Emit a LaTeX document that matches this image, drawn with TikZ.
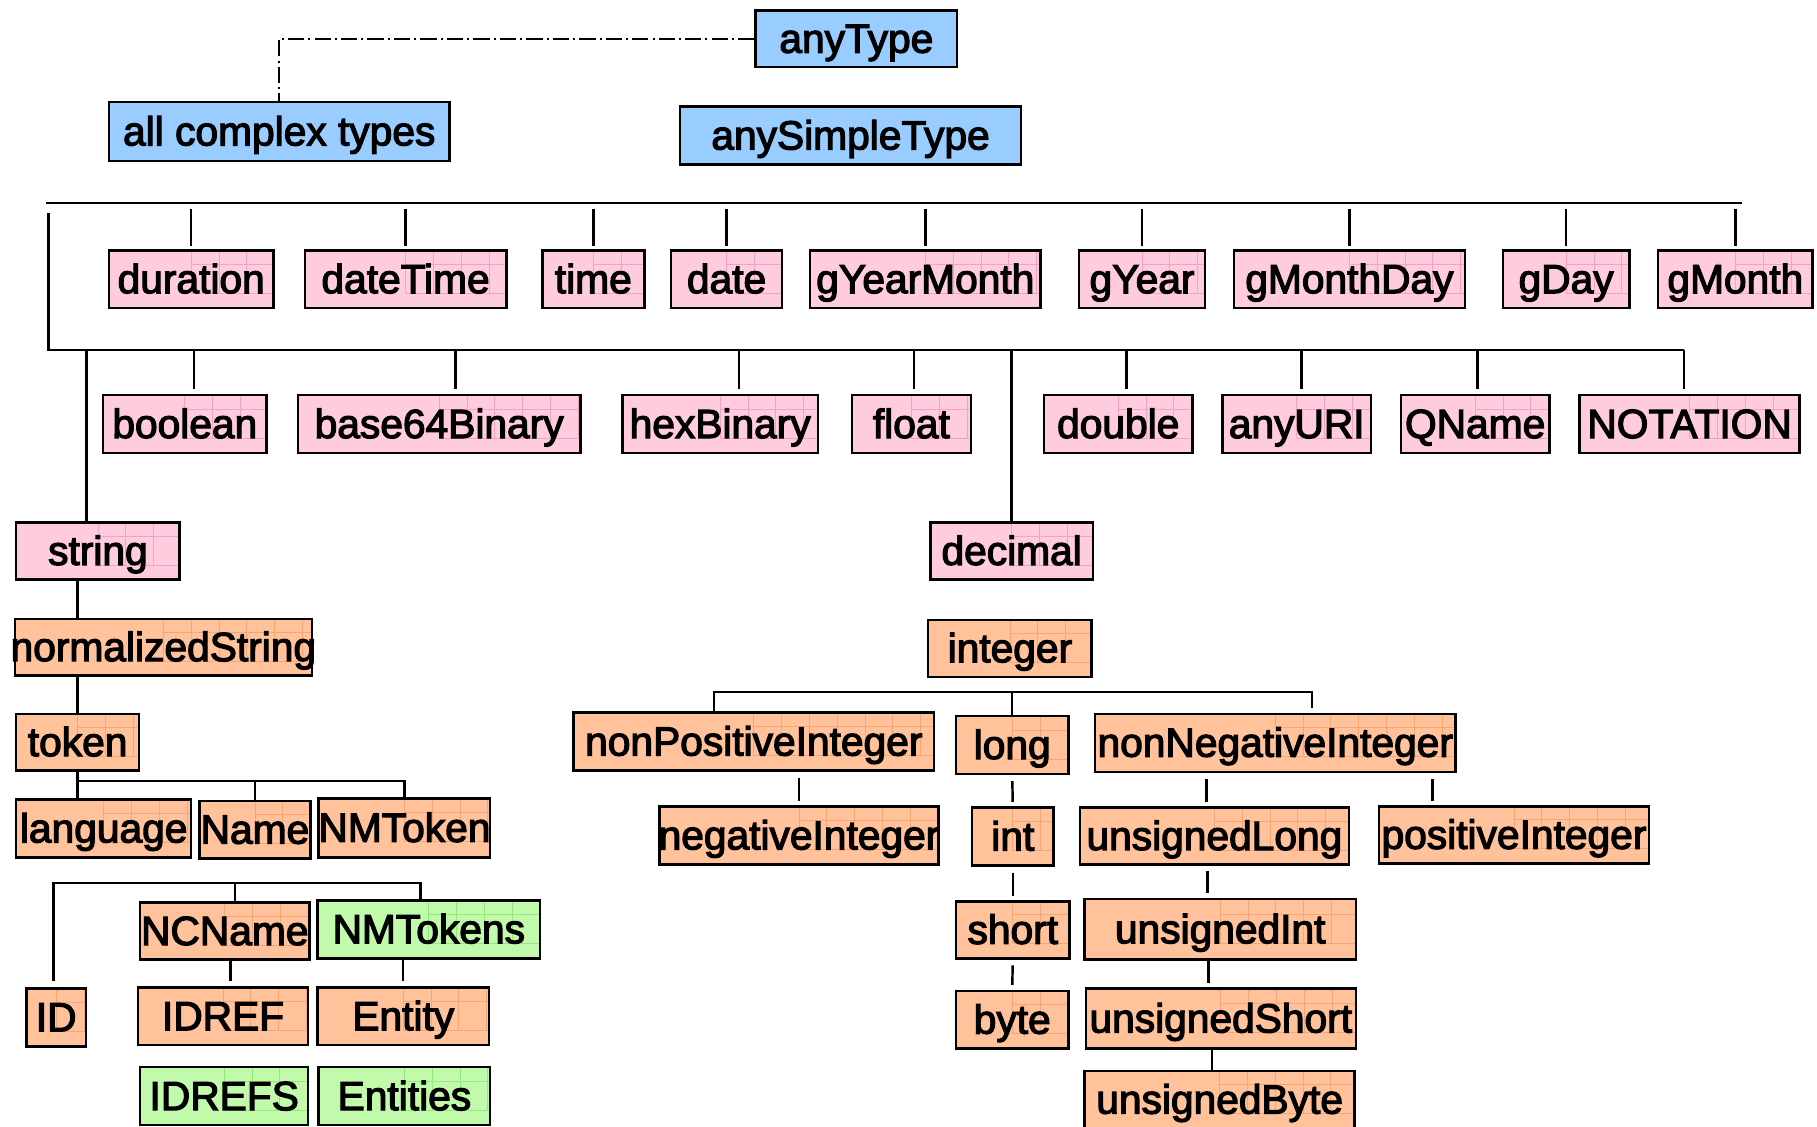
\documentclass[tikz,border=0pt]{standalone}
\usepackage{fontspec}
\newfontfamily\xsdfont{Liberation Sans}[FakeBold=3]

\definecolor{xsdblue}{HTML}{99CCFF}
\definecolor{xsdpink}{HTML}{FFCBDF}
\definecolor{xsdpinkline}{HTML}{F2A2C4}
\definecolor{xsdorange}{HTML}{FFC29B}
\definecolor{xsdorangeline}{HTML}{F6A672}
\definecolor{xsdgreen}{HTML}{C2FAAC}
\definecolor{xsdgreenline}{HTML}{94E87C}

\begin{document}
\begin{tikzpicture}[x=0.02cm, y=-0.02cm,
  texture/.style={path picture={\draw[#1, line width=0.4pt, shift={(path picture bounding box.south west)}]
      (0,0) grid[xstep=0.48cm, ystep=0.5cm] (path picture bounding box.north east);}},
  type/.style={draw, line width=1.2pt, inner sep=0pt, font=\xsdfont\fontsize{20}{24}\selectfont,
    text height=0.64cm, text depth=0.16cm,
    execute at begin node={\hbox to 0pt\bgroup\hss}, execute at end node={\hss\egroup}},
  sz/.style 2 args={minimum width=#1*0.02cm, minimum height=#2*0.02cm},
  root/.style={type, fill=xsdblue},
  prim/.style={type, fill=xsdpink, texture=xsdpinkline},
  derived/.style={type, fill=xsdorange, texture=xsdorangeline},
  listtype/.style={type, fill=xsdgreen, texture=xsdgreenline},
  link/.style={line width=1.2pt},
  gap/.style={link, shorten <=0.1cm, shorten >=0.08cm}]
  \def\px{0.02cm}
  \useasboundingbox (0,0) rectangle (1568,972);

  % Ur types
  \node[root, sz={174}{49}] (anyType) at (739,33.5) {anyType};
  \node[root, sz={294}{51}] (complex) at (241,113.5) {all complex types};
  \node[root, sz={294}{50}] (anySimple) at (734,117) {anySimpleType};

  \draw[link, dash pattern=on 8pt off 2pt on 1pt off 2pt] (anyType.west) -| (complex.north);

  % Primitive types, first row
  \node[prim, sz={142}{50}] (duration) at (165,241) {duration};
  \node[prim, sz={174}{50}] (dateTime) at (350,241) {dateTime};
  \node[prim, sz={88}{50}] (time) at (512,241) {time};
  \node[prim, sz={96}{50}] (date) at (627,241) {date};
  \node[prim, sz={199}{50}] (gYearMonth) at (798.5,241) {gYearMonth};
  \node[prim, sz={109}{50}] (gYear) at (985.5,241) {gYear};
  \node[prim, sz={199}{50}] (gMonthDay) at (1164.5,241) {gMonthDay};
  \node[prim, sz={109}{50}] (gDay) at (1351.5,241) {gDay};
  \node[prim, sz={133}{50}] (gMonth) at (1497.5,241) {gMonth};

  % Primitive types, second row
  \node[prim, sz={141}{50}] (boolean) at (159.5,366) {boolean};
  \node[prim, sz={244}{50}] (base64Binary) at (379,366) {base64Binary};
  \node[prim, sz={169}{50}] (hexBinary) at (621.5,366) {hexBinary};
  \node[prim, sz={103}{50}] (float) at (786.5,366) {float};
  \node[prim, sz={128}{50}] (double) at (965,366) {double};
  \node[prim, sz={128}{50}] (anyURI) at (1119,366) {anyURI};
  \node[prim, sz={128}{50}] (QName) at (1273,366) {QName};
  \node[prim, sz={190}{50}] (NOTATION) at (1458,366) {NOTATION};

  \node[prim, sz={141}{49}] (string) at (84.5,475.5) {string};
  \node[prim, sz={140}{49}] (decimal) at (873,475.5) {decimal};

  % Buses under anySimpleType
  \coordinate (bus1w) at (40,175);
  \coordinate (bus1e) at (1503,175);
  \coordinate (left) at (42,184);
  \coordinate (bus2w) at (42,302);
  \coordinate (bus2e) at (1453,302);
  \draw[link] (bus1w) -- (bus1e);
  \draw[link] (left) -- (bus2w) -- (bus2e);

  \foreach \t in {duration, dateTime, time, date, gYearMonth, gYear, gMonthDay, gDay, gMonth}
    \draw[link, shorten <=0.1cm, shorten >=0.05cm] (\t.north |- bus1w) -- (\t.north);
  \foreach \t/\dx in {boolean/8, base64Binary/14, hexBinary/16, float/2, double/7, anyURI/4, QName/2, NOTATION/-5}
    \draw[link, shorten >=0.08cm] ([xshift=\dx*\px]\t.north |- bus2w) -- ([xshift=\dx*\px]\t.north);
  \draw[link] ([xshift=-10*\px]string.north |- bus2w) -- ([xshift=-10*\px]string.north);
  \draw[link] (decimal.north |- bus2w) -- (decimal.north);

  % Derived from string
  \node[derived, sz={256}{49}] (normStr) at (141,558.5) {normalizedString};
  \node[derived, sz={106}{49}] (token) at (67,640.5) {token};
  \node[derived, sz={151}{50}] (language) at (89.5,715) {language};
  \node[derived, sz={96}{50}] (Name) at (220,716) {Name};
  \node[derived, sz={148}{51}] (NMToken) at (349,714.5) {NMToken};
  \node[derived, sz={146}{49}] (NCName) at (194,803.5) {NCName};
  \node[listtype, sz={192}{50}] (NMTokens) at (370,802) {NMTokens};
  \node[derived, sz={51}{50}] (ID) at (48.5,878) {ID};
  \node[derived, sz={147}{50}] (IDREF) at (192.5,877) {IDREF};
  \node[derived, sz={148}{50}] (Entity) at (348,877) {Entity};
  \node[listtype, sz={145}{50}] (IDREFS) at (193.5,946) {IDREFS};
  \node[listtype, sz={148}{50}] (Entities) at (349,946) {Entities};

  \draw[link] (token.north |- string.south) -- (token.north |- normStr.north);
  \draw[link] (token.north |- normStr.south) -- (token.north);

  \coordinate (tokbus) at (68,674);
  \draw[link] (token.south) -- (token.south |- language.north);
  \draw[link] (token.south |- tokbus) -- (NMToken.north |- tokbus) -- (NMToken.north);
  \draw[link] (Name.north |- tokbus) -- (Name.north);

  \coordinate (ncbus) at (203,762);
  \draw[link, shorten <=0.1cm] ([xshift=-2.5*\px]ID.north) -- ([xshift=-2.5*\px]ID.north |- ncbus)
    -- ([xshift=-7*\px]NMTokens.north |- ncbus) -- ([xshift=-7*\px]NMTokens.north);
  \draw[link] ([xshift=9*\px]NCName.north) -- ([xshift=9*\px]NCName.north |- ncbus);
  \draw[link, shorten >=0.08cm] ([xshift=5*\px]NCName.south) -- ([xshift=5*\px]NCName.south |- IDREF.north);
  \draw[link, shorten >=0.08cm] (Entity.north |- NMTokens.south) -- (Entity.north);

  % Derived from decimal
  \node[derived, sz={141}{49}] (integer) at (871.5,559.5) {integer};
  \node[derived, sz={311}{50}] (nonPos) at (650.5,640) {nonPositiveInteger};
  \node[derived, sz={97}{50}] (long) at (873.5,643) {long};
  \node[derived, sz={311}{50}] (nonNeg) at (1100.5,641) {nonNegativeInteger};
  \node[derived, sz={241}{50}] (negInt) at (689.5,721) {negativeInteger};
  \node[derived, sz={70}{50}] (int) at (874,722) {int};
  \node[derived, sz={232}{49}] (unsLong) at (1048,721.5) {unsignedLong};
  \node[derived, sz={233}{49}] (posInt) at (1306.5,720.5) {positiveInteger};
  \node[derived, sz={98}{49}] (short) at (874,802.5) {short};
  \node[derived, sz={234}{52}] (unsInt) at (1053,802) {unsignedInt};
  \node[derived, sz={97}{50}] (byte) at (873.5,880) {byte};
  \node[derived, sz={233}{52}] (unsShort) at (1053.5,879) {unsignedShort};
  \node[derived, sz={233}{50}] (unsByte) at (1052.5,949) {unsignedByte};

  \coordinate (intbus) at (874,597);
  \draw[link, shorten >=0.08cm] ([xshift=-34.5*\px]nonPos.north) -- ([xshift=-34.5*\px]nonPos.north |- intbus)
    -- ([xshift=31.5*\px]nonNeg.north |- intbus) -- ([xshift=31.5*\px]nonNeg.north);
  \draw[link] (long.north |- intbus) -- (long.north);

  \draw[gap] (negInt.north |- nonPos.south) -- (negInt.north);
  \draw[gap] (long.south) -- (int.north);
  \draw[gap] (int.south) -- (short.north);
  \draw[gap] (short.south) -- (byte.north);
  \draw[gap] ([xshift=-7*\px]unsLong.north |- nonNeg.south) -- ([xshift=-7*\px]unsLong.north);
  \draw[gap] ([xshift=-21*\px]nonNeg.south east) -- ([xshift=-21*\px]nonNeg.south east |- posInt.north);
  \draw[gap] ([xshift=-6*\px]unsLong.south) -- ([xshift=-6*\px]unsLong.south |- unsInt.north);
  \draw[link, shorten >=0.08cm] ([xshift=-10*\px]unsInt.south) -- ([xshift=-10*\px]unsInt.south |- unsShort.north);
  \draw[link] ([xshift=-7.5*\px]unsShort.south) -- ([xshift=-7.5*\px]unsShort.south |- unsByte.north);

\end{tikzpicture}
\end{document}
